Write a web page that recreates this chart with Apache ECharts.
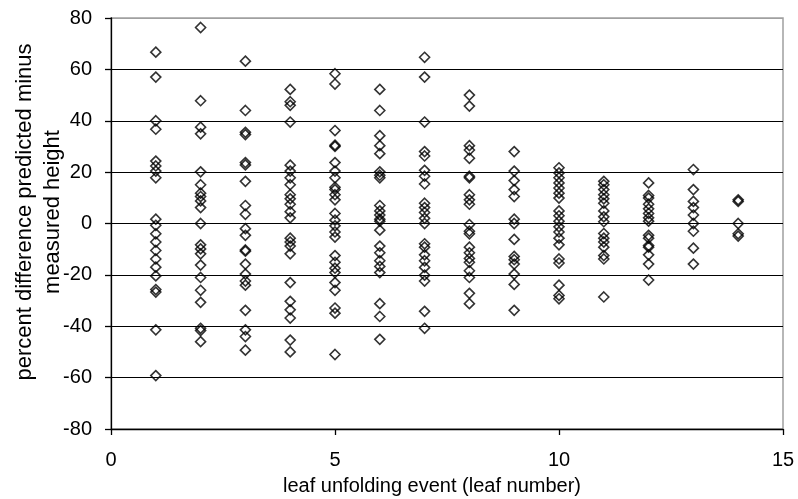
<!DOCTYPE html>
<html>
<head>
<meta charset="utf-8">
<script src="https://cdn.jsdelivr.net/npm/echarts@6/dist/echarts.min.js"></script>
<style>
html,body{margin:0;padding:0;background:#fff;}
#chart{width:798px;height:499px;}
</style>
</head>
<body>
<div id="chart"></div>
<script>
// percent difference (predicted minus measured height) per leaf unfolding event
const leaf1 = [66.7, 57, 40, 36.7, 24.3, 22.4, 20.4, 17.8, 1.7, -0.7, -4, -7.2, -10.5, -13.8, -17, -20.4, -25.7, -26.7, -41.4, -59.2];
const leaf2 = [76.3, 47.8, 37.5, 34.9, 20.1, 15.1, 11.8, 10.5, 8.8, 6.2, 0, -8.3, -9.9, -11.8, -16.2, -21, -26, -30.7, -40.8, -41.7, -46];
const leaf3 = [63.2, 44, 35.5, 34.6, 23.7, 22.8, 16.4, 7, 3.6, -2, -4.6, -10.3, -10.8, -15.8, -19.7, -22.4, -24, -33.8, -41.4, -44, -49.3];
const leaf4 = [52.2, 47.4, 46, 39.5, 22.7, 20.4, 17.8, 15.1, 11.2, 9.6, 7.5, 4.6, 2.2, -5.7, -7.2, -8.8, -11.8, -23, -30.3, -33.6, -36.8, -45.4, -50];
const leaf5 = [58.3, 54.3, 36.2, 30.5, 30, 23.7, 20.4, 17.8, 14.1, 13.2, 11.2, 9.2, 3.9, 1.3, -0.9, -3.3, -5.3, -12.5, -15.1, -17.4, -19.1, -23, -26, -32.9, -34.9, -51];
const leaf6 = [52.2, 44, 34.2, 30.3, 27.2, 20.1, 18.8, 17.8, 7, 4.9, 3.3, 1.7, 0.9, -2.6, -8.8, -11.4, -14.5, -16.7, -19.1, -31.2, -36.2, -45.1];
const leaf7 = [64.7, 57, 39.5, 28, 26.3, 20.7, 18.4, 15.4, 7.9, 6.2, 4.3, 2, 0, -7.9, -9.2, -12.2, -14.5, -17.1, -20.1, -22.4, -34.2, -40.8];
const leaf8 = [50, 45.7, 30.3, 28.6, 25.4, 18.4, 17.8, 11.2, 9.2, 7.5, -0.4, -3, -4, -9.2, -11.4, -13.6, -15.1, -18.4, -21, -27.2, -31.2];
const leaf9 = [28, 20.4, 16.7, 13.2, 10.5, 1.7, 0, -6.2, -12.8, -14.1, -15.8, -19.7, -23.7, -33.8];
const leaf10 = [21.7, 19.7, 17.8, 15.8, 13.8, 11.8, 9.9, 4.9, 3, 0.9, -1.3, -3.3, -5.7, -8.3, -13.8, -15.4, -24, -28, -29.3];
const leaf11 = [16.4, 15.1, 13.2, 11.2, 9.6, 7.9, 4.9, 2.6, 0.7, -3.9, -5.7, -7.2, -9.2, -12.5, -13.8, -28.6];
const leaf12 = [15.8, 10.9, 9.9, 7.5, 5.7, 3.9, 2.2, 0.9, -4.6, -5.7, -8.6, -9.2, -12.2, -15.8, -22];
const leaf13 = [21, 13.2, 8.6, 6.2, 3.3, 0, -3, -9.6, -15.8];
const leaf14 = [9.2, 8.6, 0, -4, -4.9];

const leafNumbers = [1, 2, 3, 4, 5, 6, 7, 8, 9, 10, 11, 12, 13, 14];
const columns = [leaf1, leaf2, leaf3, leaf4, leaf5, leaf6, leaf7, leaf8, leaf9, leaf10, leaf11, leaf12, leaf13, leaf14];

const xTicks = [0, 5, 10, 15];
const yTicks = [-80, -60, -40, -20, 0, 20, 40, 60, 80];
const xTitle = 'leaf unfolding event (leaf number)';
const yTitle = 'percent difference predicted minus\nmeasured height';

const points = [];
columns.forEach((vals, i) => {
  vals.forEach(v => points.push([leafNumbers[i], v]));
});

const font = '"Liberation Sans", Arial, sans-serif';
const chart = echarts.init(document.getElementById('chart'), null, {renderer: 'canvas'});
chart.setOption({
  animation: false,
  backgroundColor: '#fff',
  grid: {
    left: 111, right: 15, top: 18, bottom: 70,
    show: true, borderColor: '#a0a0a0', borderWidth: 1.5, backgroundColor: 'transparent'
  },
  graphic: [
    {
      type: 'text', x: 432, y: 486,
      style: {text: xTitle, font: '20px ' + font, fill: '#000', align: 'center', verticalAlign: 'middle'}
    },
    {
      type: 'text', x: 39, y: 212, rotation: Math.PI / 2,
      style: {text: yTitle, font: '22px ' + font, fill: '#000', align: 'center', verticalAlign: 'middle', lineHeight: 28}
    }
  ],
  xAxis: {
    type: 'value',
    min: xTicks[0], max: xTicks[xTicks.length - 1], interval: 5,
    axisLine: {show: true, onZero: false, lineStyle: {color: '#000', width: 1.3}},
    axisTick: {show: true, inside: false, length: 6, lineStyle: {color: '#000', width: 1.3}},
    axisLabel: {fontFamily: font, fontSize: 20, color: '#000', margin: 21},
    splitLine: {show: false}
  },
  yAxis: {
    type: 'value',
    min: yTicks[0], max: yTicks[yTicks.length - 1], interval: 20,
    axisLine: {show: true, onZero: false, lineStyle: {color: '#000', width: 1.3}},
    axisTick: {show: true, inside: false, length: 6, lineStyle: {color: '#000', width: 1.3}},
    axisLabel: {fontFamily: font, fontSize: 20, color: '#000', margin: 19},
    splitLine: {show: true, lineStyle: {color: ['#000', '#000', '#000', '#000', '#000', '#000', '#000', '#000', '#a0a0a0'], width: 1}}
  },
  series: [{
    type: 'scatter',
    data: points,
    symbol: 'diamond',
    symbolSize: 10,
    itemStyle: {color: 'rgba(255,255,255,0)', borderColor: '#000', borderWidth: 1.6}
  }]
});
</script>
</body>
</html>
